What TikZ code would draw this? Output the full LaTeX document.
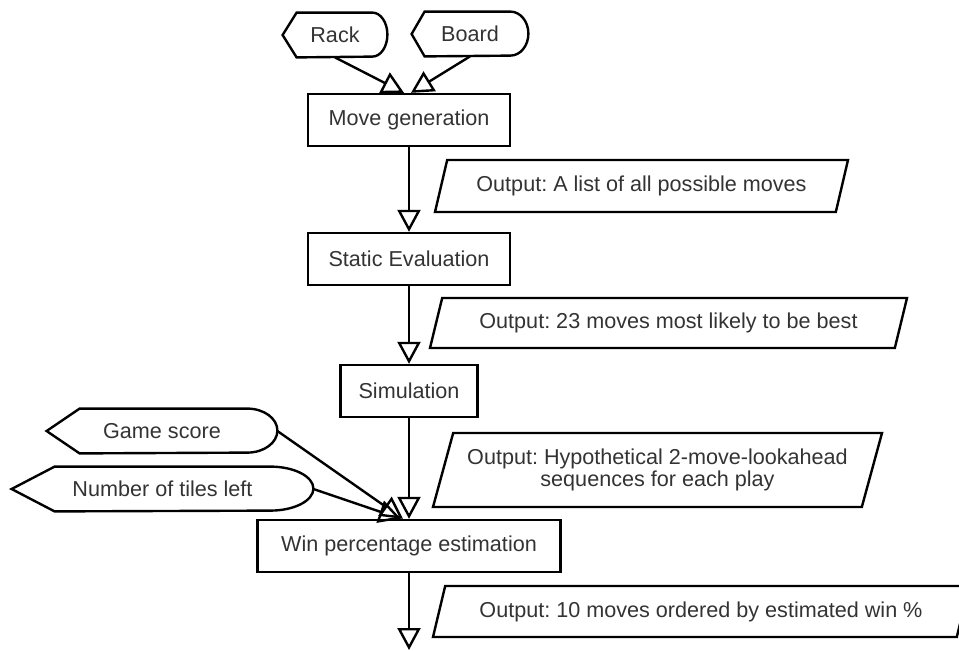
\documentclass[tikz,border=0pt]{standalone}
\usepackage{fontspec}
\setmainfont{Liberation Sans}
\frenchspacing
\usetikzlibrary{shapes.geometric, arrows.meta}
\tikzset{
	procnode/.style={rectangle, draw, very thick, minimum height=26pt, inner xsep=8pt},
	datanode/.style={trapezium, trapezium left angle=70, trapezium right angle=110, trapezium stretches body, draw, very thick, align=center},
	dispnode/.style={rectangle, minimum height=22pt, inner sep=0pt},
	flowarrow/.style={-{Triangle[open, length=11pt, width=11.5pt]}, very thick},
	every node/.style={font=\fontsize{10.8}{11}\selectfont, text=black!80}
}

\begin{document}
\begin{tikzpicture}[x=0.5pt, y=-0.5pt]
	\useasboundingbox (0,0) rectangle (959,650);
	\node[dispnode, minimum width=52pt] at (335,35) (rack) {Rack};
	\node[dispnode, minimum width=58pt] at (470,34) (board) {Board};
	\node[procnode, minimum width=101pt] at (409,120) (movegen) {Move generation};
	\node[procnode, minimum width=101pt] at (409,259) (static) {Static Evaluation};
	\node[procnode, minimum width=68.5pt] at (409,391) (sim) {Simulation};
	\node[procnode, minimum width=151.5pt] at (409,546) (winest) {Win percentage estimation};
	\node[dispnode, minimum width=115pt] at (162,431) (score) {Game score};
	\node[dispnode, minimum width=150.5pt] at (162.5,489) (tiles) {Number of tiles left};
	\coordinate (out) at (409,650);
	
	\foreach \n/\a/\b in {rack/7pt/7.5pt, board/6.5pt/9pt, score/16.5pt/15pt, tiles/21.5pt/21.5pt}
		\draw[very thick] (\n.west) -- ([xshift=\a]\n.north west) -- ([xshift=-\b]\n.north east) arc[start angle=90, end angle=-90, x radius=\b, y radius=11pt] -- ([xshift=\a]\n.south west) -- cycle;
	
	\node[datanode, minimum width=206.5pt, minimum height=26pt] at (641.5,186) (list) {Output: A list of all possible moves};
	\node[datanode, minimum width=238.5pt, minimum height=25pt] at (668.5,323) (best) {Output: 23 moves most likely to be best};
	\node[datanode, minimum width=224.5pt, minimum height=37pt] at (657.5,470) (seq) {Output: Hypothetical 2-move-lookahead\\sequences for each play};
	\node[datanode, minimum width=268pt, minimum height=25.5pt] at (701,611.5) (ranked) {Output: 10 moves ordered by estimated win \%};
	
	\draw[flowarrow] (rack.south) -- ([xshift=-2.5pt]movegen.north);
	\draw[flowarrow] (board.south) -- ([xshift=1pt]movegen.north);
	\draw[flowarrow] (movegen.south) -- (static.north);
	\draw[flowarrow] (static.south) -- (sim.north);
	\draw[flowarrow] (sim.south) -- (winest.north);
	\draw[flowarrow] (score.east) -- ([xshift=-3pt]winest.north);
	\draw[flowarrow] (tiles.east) -- ([xshift=-4pt]winest.north);
	\draw[flowarrow] (winest.south) -- (out);
\end{tikzpicture}
\end{document}
